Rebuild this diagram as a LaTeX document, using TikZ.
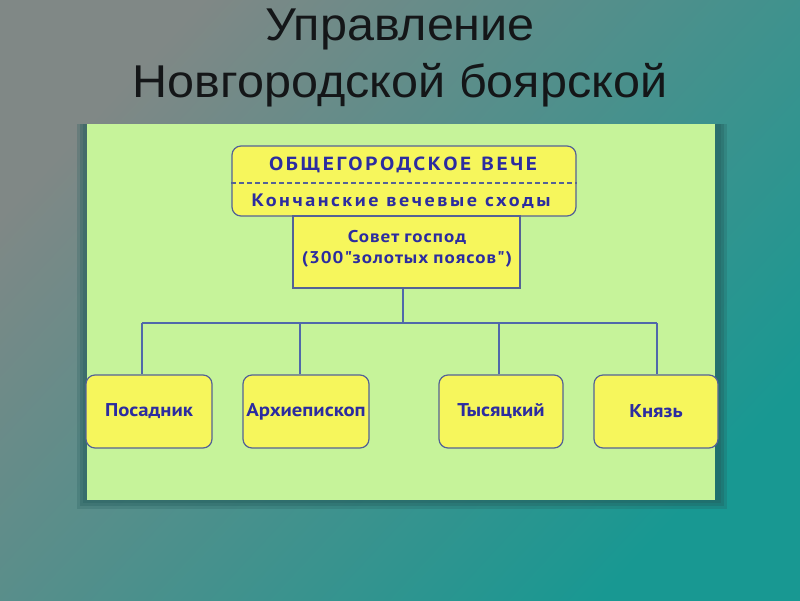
\documentclass[tikz,border=0pt]{standalone}
\usepackage{fontspec}
\setmainfont{Liberation Sans}
\newfontfamily\titlefont{Liberation Sans}[FakeStretch=1.055]
\newfontfamily\boxfont{PT Sans}[FakeStretch=1.12]
\newfontfamily\spacedfont{PT Sans}[FakeStretch=1.12,LetterSpace=14]
\newfontfamily\sovetfont{PT Sans}[FakeStretch=1.12,LetterSpace=6]
\usetikzlibrary{positioning}

\definecolor{bgleft}{RGB}{128,136,134}
\definecolor{bgright}{RGB}{24,152,146}
\definecolor{panelgreen}{RGB}{198,243,154}
\definecolor{panelshadow}{RGB}{36,92,92}
\definecolor{boxyellow}{RGB}{246,246,92}
\definecolor{boxline}{RGB}{84,98,150}
\definecolor{linkblue}{RGB}{80,104,170}
\definecolor{labelblue}{RGB}{44,44,160}
\definecolor{titleblack}{RGB}{20,22,24}

\tikzset{
  orgbox/.style={draw=boxline, line width=1.2pt, fill=boxyellow, rounded corners=9pt,
    minimum width=126pt, minimum height=73pt, inner sep=0pt,
    font=\boxfont\bfseries\fontsize{18.5}{21}\selectfont, text=labelblue},
  boxtext/.style={inner sep=0pt, text=labelblue},
  link/.style={draw=linkblue, line width=1.5pt},
  titletext/.style={align=center, text=titleblack, font=\titlefont\fontsize{46}{57}\selectfont},
}

\begin{document}
\begin{tikzpicture}[x=1pt,y=-1pt]
  \useasboundingbox (0,0) rectangle (800,600);
  \shade[left color=bgleft, right color=bgright, shading angle=47] (0,0) rectangle (800,600);

  % title
  \node[titletext, anchor=base] (title) at (400,40) {Управление};
  \node[titletext, anchor=base] (title2) at (400,97) {Новгородской боярской};

  % panel with soft edge
  \fill[panelshadow, opacity=.25] (77,124) rectangle (727,509);
  \fill[panelshadow, opacity=.3] (80,124) rectangle (724,506);
  \fill[panelshadow, opacity=.3] (83,124) rectangle (721,503);
  \fill[panelgreen] (87,124) rectangle (715,500);

  % veche
  \node[orgbox, minimum width=344pt, minimum height=70pt] (veche) at (404,181) {};
  \draw[boxline, line width=1.2pt, dash pattern=on 5pt off 3pt]
    (veche.west |- 0,183) -- (veche.east |- 0,183);
  \node[boxtext, font=\spacedfont\bfseries\fontsize{19}{21}\selectfont] (vechetitle) at (403,165)
    {ОБЩЕГОРОДСКОЕ\hspace{10pt}ВЕЧЕ};
  \node[boxtext, font=\spacedfont\bfseries\fontsize{18}{21}\selectfont] (konchan) at (401,201)
    {Кончанские\hspace{8pt}вечевые\hspace{8pt}сходы};

  % sovet
  \node[orgbox, rounded corners=0pt, minimum width=227pt, minimum height=72pt] (sovet) at (406.5,252) {};
  \node[boxtext, align=center, font=\sovetfont\bfseries\fontsize{17}{21}\selectfont] (sovettext) at (407,249)
    {Совет\hspace{5pt}господ\\(300"золотых\hspace{5pt}поясов")};

  % lower level
  \node[orgbox] (posadnik) at (149,411.5) {Посадник};
  \node[orgbox] (arkhiepiskop) at (306,411.5) {Архиепископ};
  \node[orgbox, minimum width=124pt] (tysyatsky) at (501,411.5) {Тысяцкий};
  \node[orgbox, minimum width=124pt] (knyaz) at (656,411.5) {Князь};

  \coordinate (bus) at (403,323);
  \draw[link] (bus |- sovet.south) -- (bus);
  \draw[link] ([xshift=-7pt]posadnik.north |- bus) -- ([xshift=1pt]knyaz.north |- bus);
  \foreach \b/\s in {posadnik/-7, arkhiepiskop/-6, tysyatsky/-2, knyaz/1}
    \draw[link] ([xshift=\s pt]\b.north |- bus) -- ([xshift=\s pt]\b.north);
\end{tikzpicture}
\end{document}
